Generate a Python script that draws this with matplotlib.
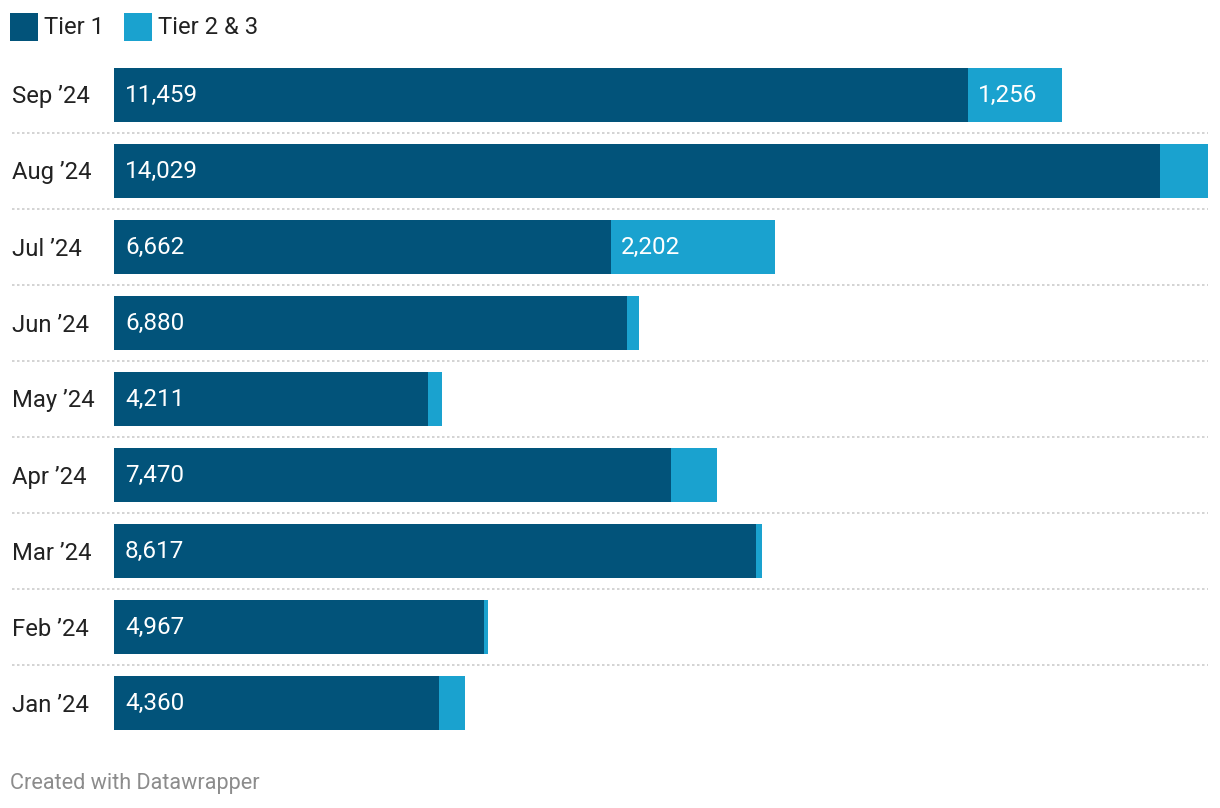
import matplotlib
matplotlib.use("Agg")
import matplotlib.pyplot as plt
from matplotlib.lines import Line2D
from matplotlib.patches import Rectangle

plt.rcParams['font.family'] = ['Roboto', 'DejaVu Sans']

months = ["Sep ’24", "Aug ’24", "Jul ’24", "Jun ’24", "May ’24",
          "Apr ’24", "Mar ’24", "Feb ’24", "Jan ’24"]
tier1 = [11459, 14029, 6662, 6880, 4211, 7470, 8617, 4967, 4360]
tier23 = [1256, 644, 2202, 161, 188, 617, 80, 54, 349]
series_names = ["Tier 1", "Tier 2 & 3"]

c1 = "#02537a"
c2 = "#1aa2cf"

W, H = 1220, 808
fig = plt.figure(figsize=(W / 100, H / 100), dpi=100)

ax_left, ax_right = 114 / W, 1208 / W
ax_top, ax_bot = 57, 741
ax = fig.add_axes([ax_left, 1 - ax_bot / H, ax_right - ax_left, (ax_bot - ax_top) / H])

n = len(months)
ypos = list(range(n))
ax.barh(ypos, tier1, height=0.71, color=c1, linewidth=0)
ax.barh(ypos, tier23, left=tier1, height=0.71, color=c2, linewidth=0)
ax.set_ylim(n - 0.5, -0.5)
ax.set_xlim(0, max(a + b for a, b in zip(tier1, tier23)))
ax.axis("off")

for i, (a, b) in enumerate(zip(tier1, tier23)):
    ax.annotate(f"{a:,}", (0, i), xytext=(8, 0), textcoords="offset points",
                ha="left", va="center", color="white", fontsize=17.5)
    if b > 1000:
        ax.annotate(f"{b:,}", (a, i), xytext=(7, 0), textcoords="offset points",
                    ha="left", va="center", color="white", fontsize=17.5)
    # month label
    yfig = 1 - (ax_top + (i + 0.5) / n * (ax_bot - ax_top) + 2) / H
    fig.text(12 / W, yfig, months[i], ha="left", va="center", fontsize=17.2, color="#222222")

# dotted separators
for i in range(n - 1):
    ypix = ax_top + (i + 1) / n * (ax_bot - ax_top)
    fig.add_artist(Line2D([12 / W, 1208 / W], [1 - ypix / H] * 2, color="#cccccc",
                          linewidth=1.2, linestyle=(0, (1.5, 1.5))))

# legend
for x0, col, name in [(10, c1, series_names[0]), (124, c2, series_names[1])]:
    fig.add_artist(Rectangle((x0 / W, 1 - 41 / H), 28 / W, 28 / H, color=col,
                             transform=fig.transFigure, linewidth=0))
    fig.text((x0 + 34) / W, 1 - 28 / H, name, ha="left", va="center",
             fontsize=17.2, color="#222222")

fig.text(10 / W, 1 - 783 / H, "Created with Datawrapper", ha="left", va="center",
         fontsize=15.6, color="#8c8c8c")

fig.savefig("out.png", dpi=100, facecolor="white")
